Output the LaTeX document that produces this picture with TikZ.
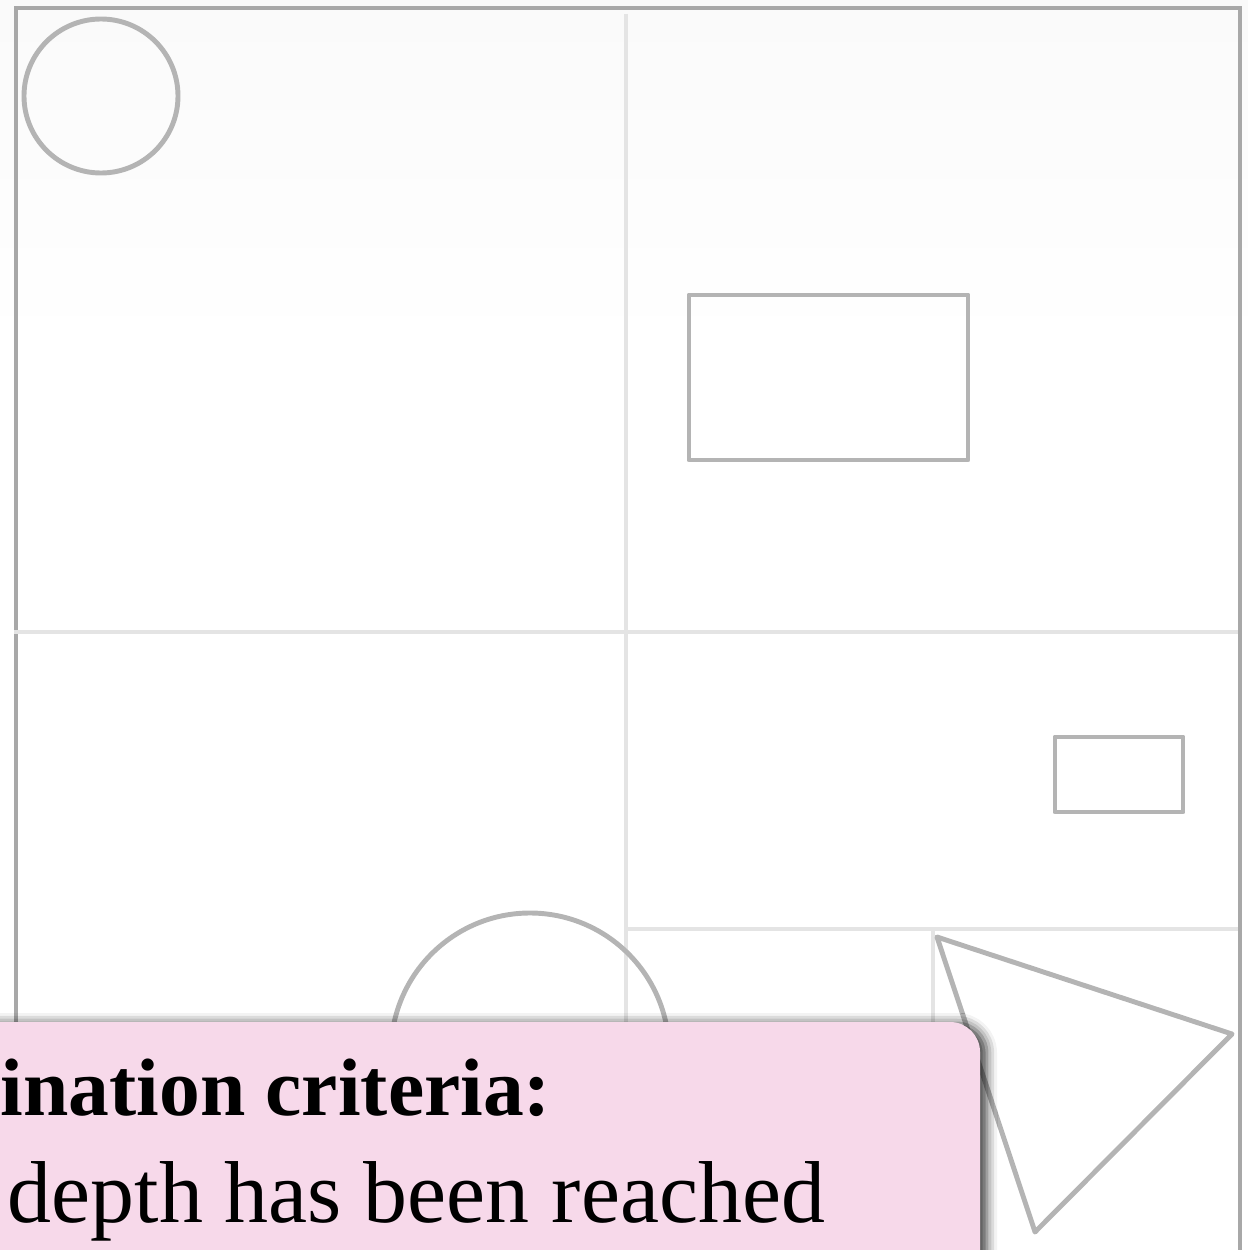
\documentclass[tikz,border=0pt]{standalone}
\usepackage{fontspec}
\setmainfont{Liberation Serif}
\usetikzlibrary{shadows.blur}
\definecolor{framegray}{HTML}{A8A8A8}
\definecolor{shapegray}{HTML}{B4B4B4}
\definecolor{gridgray}{HTML}{E4E4E4}
\definecolor{notepink}{HTML}{F7D9EA}
\tikzset{
  frame/.style={draw=framegray, line width=1.4pt},
  quad/.style={draw=gridgray, line width=1pt},
  obj/.style={draw=shapegray, line width=1.4pt, line join=round},
  note/.style={fill=notepink, rounded corners=0.3cm,
    blur shadow={shadow xshift=0.07cm, shadow yshift=-0.01cm, shadow blur radius=0.1cm, shadow opacity=75}},
  notetext/.style={anchor=base west, inner sep=0pt, font=\fontsize{25}{30}\selectfont}
}
\begin{document}
\begin{tikzpicture}
	\useasboundingbox (0,0) rectangle (12.48,-12.50);
	\clip (0,0) rectangle (12.48,-12.50);
	% faint background
	\shade [top color=gray!4, bottom color=white] (0,0) rectangle (12.48,-3.5);
	% outside framing
	\draw [frame] (0.16,-12.6) -- (0.16,-0.08) -- (12.40,-0.08) -- (12.40,-12.6);
	% quadrant splits
	\draw [quad] (6.26,-0.14) -- (6.26,-12.6) (0.14,-6.32) -- (12.38,-6.32);
	\draw [quad] (6.26,-9.29) -- (12.38,-9.29) (9.33,-9.29) -- (9.33,-12.6);
	% stored objects
	\draw [obj] (1.01,-0.96) circle (0.77cm);
	\draw [obj] (6.89,-2.95) rectangle (9.68,-4.60);
	\draw [obj] (10.55,-7.37) rectangle (11.83,-8.12);
	\draw [obj] (5.30,-10.52) circle (1.39cm);
	\draw [obj] (9.37,-9.37) -- (12.32,-10.34) -- (10.35,-12.32) -- cycle;
	% note box
	\path [note] (-0.5,-10.22) rectangle (9.80,-13);
	\node [notetext, font=\bfseries\fontsize{23.2}{28}\selectfont] (criteria) at (0,-11.15) {ination criteria:};
	\node [notetext] (depth) at (0.07,-12.22) {depth has been reached};
\end{tikzpicture}
\end{document}
